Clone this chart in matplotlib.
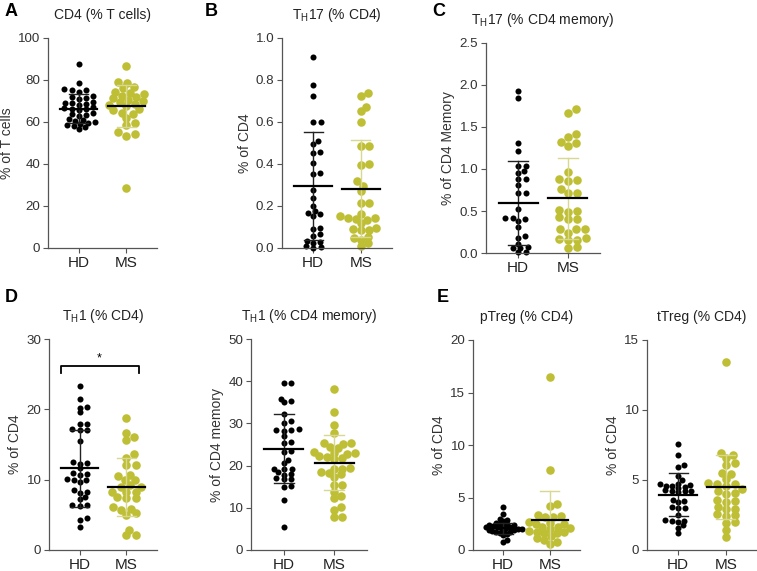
import matplotlib
matplotlib.use("Agg")
import matplotlib.pyplot as plt
import numpy as np

plt.rcParams["font.family"] = ["Liberation Sans", "DejaVu Sans"]
plt.rcParams["mathtext.fontset"] = "custom"
plt.rcParams["mathtext.rm"] = "Liberation Sans"

# ---- data (HD = healthy donors, MS = patients) ----
groups = ["HD", "MS"]

cd4_hd = [87.5, 78.5, 75.5, 75.0, 74.5, 75.2, 72.0, 71.5, 71.0, 72.5, 69.5, 69.0,
          68.5, 69.2, 68.0, 66.5, 66.0, 67.0, 66.2, 65.5, 64.0, 63.5, 64.5, 63.0,
          61.0, 60.5, 61.5, 59.8, 59.5, 59.0, 58.5, 57.5, 58.0, 56.5]
cd4_ms = [86.5, 79.0, 78.5, 76.0, 76.5, 74.0, 73.5, 74.5, 72.0, 71.5, 72.5, 70.0,
          69.5, 70.5, 68.0, 67.5, 68.5, 66.0, 65.5, 64.5, 64.0, 62.0, 59.5, 58.5,
          55.0, 54.5, 53.5, 28.8]

th17_hd = [0.91, 0.775, 0.725, 0.60, 0.60, 0.51, 0.495, 0.455, 0.45, 0.405, 0.35,
           0.355, 0.275, 0.24, 0.20, 0.175, 0.165, 0.16, 0.15, 0.09, 0.095, 0.065,
           0.055, 0.03, 0.035, 0.025, 0.01, 0.005, 0.002]
th17_ms = [0.737, 0.725, 0.67, 0.65, 0.60, 0.487, 0.487, 0.40, 0.397, 0.317, 0.297,
           0.27, 0.214, 0.214, 0.16, 0.15, 0.145, 0.143, 0.14, 0.135, 0.12, 0.095,
           0.09, 0.087, 0.087, 0.052, 0.048, 0.04, 0.024, 0.01]

th17m_hd = [1.93, 1.85, 1.305, 1.21, 1.04, 1.04, 0.98, 0.95, 0.88, 0.88, 0.81, 0.72,
            0.72, 0.52, 0.42, 0.415, 0.40, 0.38, 0.31, 0.205, 0.178, 0.11, 0.07,
            0.06, 0.06, 0.012, 0.012]
th17m_ms = [1.71, 1.67, 1.42, 1.38, 1.32, 1.31, 1.27, 0.96, 0.88, 0.87, 0.86, 0.76,
            0.71, 0.71, 0.51, 0.50, 0.49, 0.43, 0.40, 0.40, 0.29, 0.28, 0.28, 0.24,
            0.18, 0.17, 0.16, 0.15, 0.07, 0.06]

th1_hd = [23.3, 21.5, 20.3, 20.2, 19.6, 17.9, 17.9, 17.2, 17.1, 17.0, 15.5, 12.5,
          12.4, 12.2, 11.6, 11.0, 10.8, 10.7, 10.1, 10.0, 9.9, 9.6, 8.5, 8.3, 8.1,
          7.6, 7.2, 6.4, 6.4, 6.3, 4.5, 4.3, 3.3]
th1_ms = [18.8, 16.7, 16.1, 15.6, 13.6, 13.1, 12.1, 12.1, 10.7, 10.5, 10.0, 10.0,
          9.3, 9.0, 9.0, 8.3, 8.3, 8.3, 7.6, 7.4, 7.4, 6.1, 5.9, 5.7, 5.2, 5.0, 2.9,
          2.2, 2.1]

th1m_hd = [39.6, 39.5, 35.9, 35.2, 35.0, 32.3, 30.5, 30.2, 28.6, 28.5, 28.4, 28.3,
           26.9, 25.6, 25.4, 23.4, 23.2, 21.4, 20.6, 19.3, 19.2, 19.1, 18.5, 18.0,
           17.8, 17.0, 16.9, 16.8, 15.1, 15.0, 11.8, 5.4]
th1m_ms = [38.1, 32.6, 29.6, 27.8, 25.4, 25.3, 25.2, 24.5, 24.2, 23.2, 23.1, 23.0,
           22.8, 22.2, 22.0, 21.8, 21.5, 19.5, 19.3, 19.2, 18.5, 18.2, 17.9, 17.2,
           15.5, 15.3, 13.8, 12.8, 12.3, 10.3, 9.5, 7.9, 7.9]

ptreg_hd = [4.1, 3.4, 3.0, 2.9, 2.8, 2.6, 2.5, 2.5, 2.4, 2.4, 2.35, 2.3, 2.2, 2.2,
            2.15, 2.1, 2.05, 2.0, 2.0, 1.95, 1.9, 1.85, 1.8, 1.75, 1.7, 1.65, 1.5,
            1.4, 0.95, 0.8]
ptreg_ms = [16.5, 7.6, 4.4, 4.2, 3.3, 3.2, 3.1, 3.1, 2.7, 2.6, 2.5, 2.5, 2.2, 2.15,
            2.1, 2.0, 1.8, 1.75, 1.7, 1.65, 1.6, 1.3, 1.1, 1.0, 0.8, 0.6]

ttreg_hd = [7.6, 6.8, 6.05, 5.95, 5.3, 5.0, 4.75, 4.7, 4.65, 4.6, 4.6, 4.5, 4.45,
            4.3, 4.25, 4.2, 4.2, 4.15, 3.6, 3.5, 3.4, 3.1, 3.0, 3.0, 2.5, 2.15, 2.1,
            2.05, 2.0, 1.8, 1.6, 1.2]
ttreg_ms = [13.4, 6.9, 6.8, 6.55, 6.2, 6.05, 5.5, 5.45, 5.1, 4.8, 4.75, 4.7, 4.6,
            4.35, 4.2, 4.05, 4.0, 3.55, 3.5, 3.45, 3.1, 2.95, 2.9, 2.6, 2.5, 2.45,
            2.0, 1.9, 1.45, 0.9]

# mean and SD as drawn in each panel (A, B, C, D1, D2, E1, E2)
mean_hd = [66.3, 0.295, 0.60, 11.6, 24.0, 2.07, 3.95]
sd_hd = [7.0, 0.255, 0.50, 5.5, 8.2, 0.53, 1.52]
mean_ms = [67.5, 0.283, 0.65, 9.0, 20.7, 2.82, 4.5]
sd_ms = [10.1, 0.23, 0.48, 4.15, 6.6, 2.83, 2.27]

titles = ["CD4 (% T cells)",
          r"T$_\mathregular{H}$17 (% CD4)",
          r"T$_\mathregular{H}$17 (% CD4 memory)",
          r"T$_\mathregular{H}$1 (% CD4)",
          r"T$_\mathregular{H}$1 (% CD4 memory)",
          "pTreg (% CD4)",
          "tTreg (% CD4)"]
ylabels = ["% of T cells", "% of CD4", "% of CD4 Memory", "% of CD4",
           "% of CD4 memory", "% of CD4", "% of CD4"]
ymax = [100, 1.0, 2.5, 30, 50, 20, 15]
ystep = [20, 0.2, 0.5, 10, 10, 5, 5]
yfmt = ["{:.0f}", "{:.1f}", "{:.1f}", "{:.0f}", "{:.0f}", "{:.0f}", "{:.0f}"]

HD_COLOR = "black"
MS_COLOR = "#BFBF35"
MS_SD_COLOR = "#D8D890"


def swarm(ax, values, wx, wy, max_half):
    """Beeswarm with an elliptical keep-out (wx px across, wy px up/down).

    Offsets wider than max_half px are squeezed back in (points overlap, as in
    the original figure). Returns x offsets in data units.
    """
    ypix = ax.transData.transform(np.column_stack([np.zeros(len(values)), values]))[:, 1]
    ypix = ypix * (wx / wy)  # squash y so the ellipse becomes a circle of size wx
    px_per_x = ax.transData.transform((1, 0))[0] - ax.transData.transform((0, 0))[0]
    placed = []
    xoff = np.zeros(len(values))
    for i in np.argsort(ypix):
        y = ypix[i]
        near = [(px, py) for px, py in placed if abs(py - y) < wx]
        cands = [0.0]
        for px, py in near:
            dx = np.sqrt(wx ** 2 - (py - y) ** 2) + 0.01
            cands += [px + dx, px - dx]
        cands.sort(key=abs)
        for c in cands:
            if all((c - px) ** 2 + (y - py) ** 2 >= wx ** 2 - 0.01 for px, py in near):
                xoff[i] = c
                break
        placed.append((xoff[i], y))
    widest = np.abs(xoff).max()
    if widest > max_half:
        xoff *= max_half / widest
    return xoff / px_per_x


def draw_panel(ax, k, hd, ms):
    ax.set_ylim(0, ymax[k])
    ax.set_xlim(-0.65, 1.65)
    for spine in ["top", "right"]:
        ax.spines[spine].set_visible(False)
    for spine in ["left", "bottom"]:
        ax.spines[spine].set_color("#555555")
        ax.spines[spine].set_linewidth(0.9)
    ticks = np.arange(0, ymax[k] + ystep[k] / 2, ystep[k])
    ax.set_yticks(ticks)
    ax.set_yticklabels([yfmt[k].format(t) for t in ticks], fontsize=9.6, color="#333333")
    ax.set_xticks([0, 1])
    ax.set_xticklabels(groups, fontsize=11, color="#222222")
    ax.tick_params(axis="both", length=3.5, width=0.8, color="#555555", pad=2)
    ax.set_ylabel(ylabels[k], fontsize=10, color="#333333", labelpad=3)
    ax.set_title(titles[k], fontsize=10, color="#222222", pad=14)

    for xi, vals, col, wx, wy, s, mh in [(0, hd, HD_COLOR, 7.5, 4.2, 19, 18.5),
                                         (1, ms, MS_COLOR, 9.5, 5.8, 38, 20.5)]:
        off = swarm(ax, vals, wx, wy, mh)
        ax.scatter(xi + off, vals, s=s, color=col, linewidths=0, zorder=2, clip_on=False)

    for xi, m, sd, col in [(0, mean_hd[k], sd_hd[k], "#222222"),
                           (1, mean_ms[k], sd_ms[k], MS_SD_COLOR)]:
        lo = max(m - sd, 0)
        ax.plot([xi, xi], [lo, m + sd], color=col, lw=1.0, zorder=3)
        ax.plot([xi - 0.2, xi + 0.2], [m + sd, m + sd], color=col, lw=1.0, zorder=3)
        if m - sd > 0:
            ax.plot([xi - 0.2, xi + 0.2], [lo, lo], color=col, lw=1.0, zorder=3)
        ax.plot([xi - 0.39, xi + 0.39], [m, m], color="black", lw=1.6, zorder=4)


W, H = 757, 571
fig = plt.figure(figsize=(W / 100, H / 100), dpi=100)

# axes boxes in pixels: left, top, right, bottom
boxes = [(48, 38, 157, 248), (282, 38, 392, 248), (486, 43, 600, 253),
         (49, 339, 157, 550), (251, 339, 367, 550), (473, 340, 580, 550),
         (647, 340, 757, 550)]
datasets = [(cd4_hd, cd4_ms), (th17_hd, th17_ms), (th17m_hd, th17m_ms),
            (th1_hd, th1_ms), (th1m_hd, th1m_ms), (ptreg_hd, ptreg_ms),
            (ttreg_hd, ttreg_ms)]

axes = []
for k, ((l, t, r, b), (hd, ms)) in enumerate(zip(boxes, datasets)):
    ax = fig.add_axes([l / W, 1 - b / H, (r - l) / W, (b - t) / H])
    draw_panel(ax, k, hd, ms)
    axes.append(ax)

# significance bracket in the TH1 (% CD4) panel
ax = axes[3]
ax.plot([-0.4, -0.4, 1.26, 1.26], [25.2, 26.2, 26.2, 25.2], color="black", lw=1.3,
        zorder=5)
ax.text(0.42, 27.3, "*", ha="center", va="center", fontsize=9)

# panel letters
for letter, (x, y) in zip("ABCDE", [(5, 12), (205, 12), (432, 12), (5, 298), (437, 298)]):
    fig.text(x / W, 1 - y / H, letter, fontsize=13, fontweight="bold",
             ha="left", va="center")

fig.savefig("out.png", dpi=100)
